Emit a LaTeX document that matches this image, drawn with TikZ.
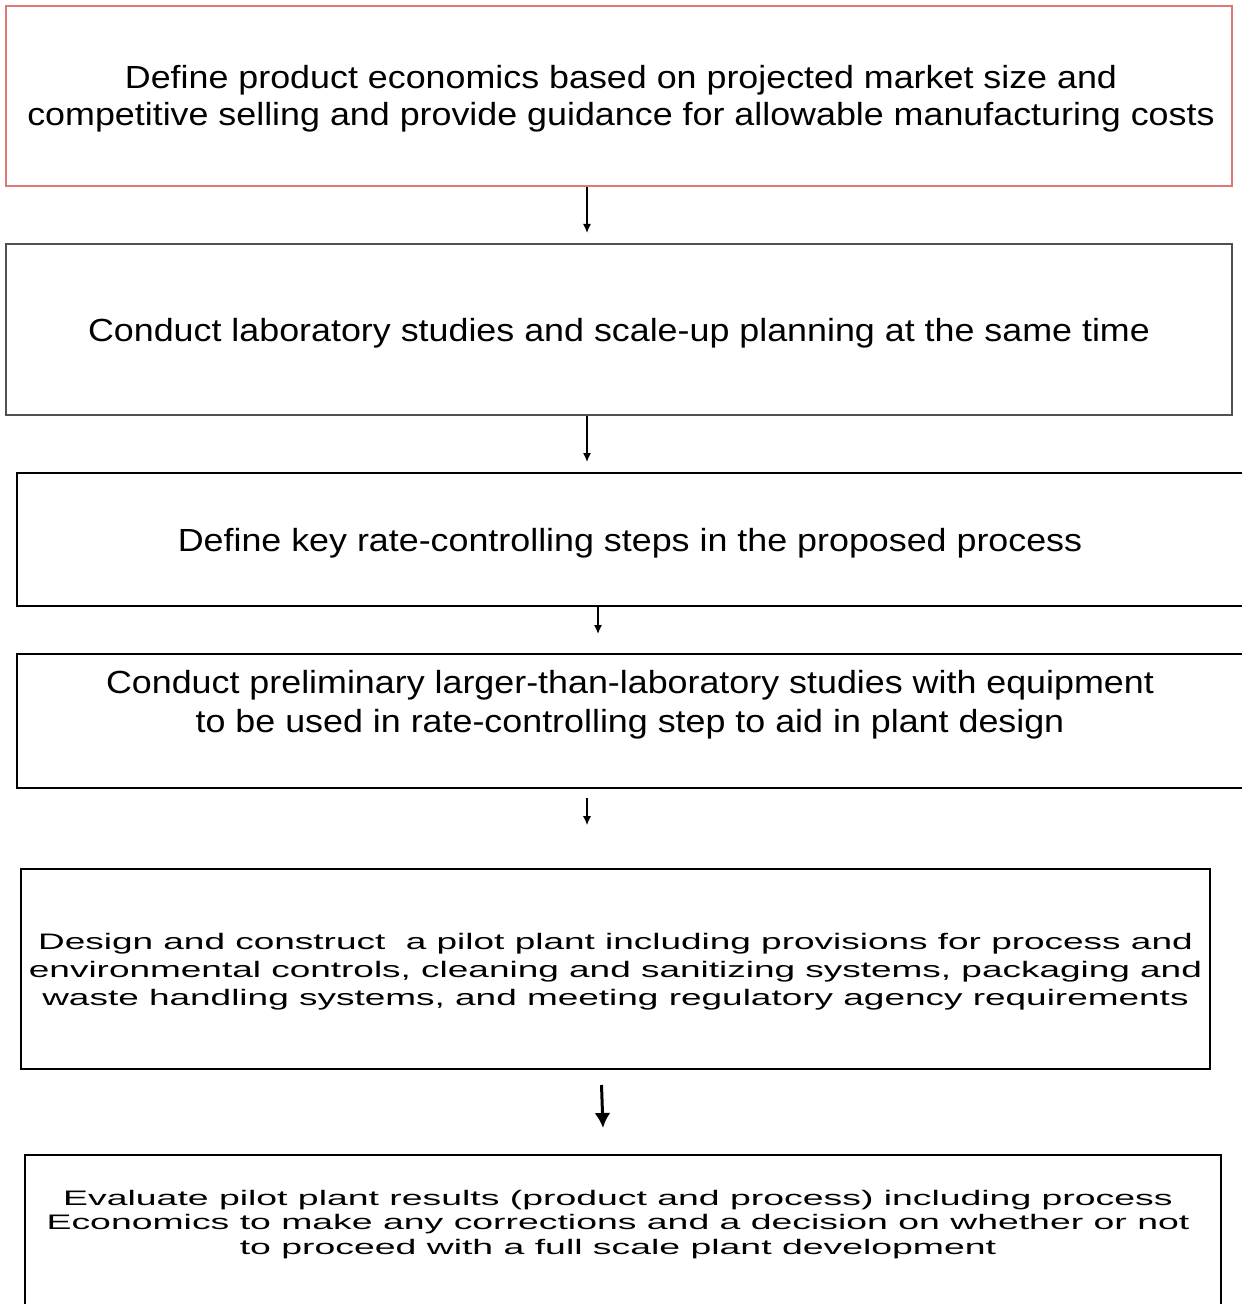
\documentclass[tikz,border=0pt]{standalone}
\usepackage{fontspec}
\setmainfont{Liberation Sans}
\newfontfamily\boxfont[FakeStretch=1.12]{Liberation Sans}
\newfontfamily\widefont[FakeStretch=1.65]{Liberation Sans}
\newfontfamily\widerfont[FakeStretch=1.78]{Liberation Sans}
\usepackage{tikz}
\usetikzlibrary{arrows,arrows.meta,shapes,positioning,calc}
\tikzstyle{stepbox} = [draw, rectangle, line width=1pt, inner sep=0pt, align=center, text depth=0pt]
\tikzstyle{steptext} = [align=center, inner sep=0pt]
\tikzstyle{arrow}   = [line width=0.7pt,-{Latex[length=4.5pt,width=4pt]}]
\definecolor{boxred}{RGB}{222,120,120}
\definecolor{boxgray}{RGB}{80,80,80}

\begin{document}
\begin{tikzpicture}[x=0.5pt,y=-0.5pt]
        \useasboundingbox (0,0) rectangle (1241,1304);
        \node[stepbox, draw=boxred, minimum width=613pt, minimum height=90pt] (s1) at (619,96) {};
        \node[steptext, font=\boxfont\fontsize{16}{18.5}\selectfont] (t1) at (621,99)
              {Define product economics based on projected market size and\\
               competitive selling and provide guidance for allowable manufacturing costs};
        \node[stepbox, draw=boxgray, minimum width=613pt, minimum height=85.5pt,
              font=\boxfont\fontsize{16}{18.5}\selectfont] (s2) at (619,329.5)
              {Conduct laboratory studies and scale-up planning at the same time};
        \node[stepbox, minimum width=613pt, minimum height=66.5pt,
              font=\boxfont\fontsize{16}{18.5}\selectfont] (s3) at (630,539.5)
              {Define key rate-controlling steps in the proposed process};
        \node[stepbox, minimum width=613pt, minimum height=67pt] (s4) at (630,721) {};
        \node[steptext, font=\boxfont\fontsize{16}{19.5}\selectfont] (t4) at (630,705)
              {Conduct preliminary larger-than-laboratory studies with equipment\\
               to be used in rate-controlling step to aid in plant design};
        \node[stepbox, line width=0.8pt, minimum width=594.5pt, minimum height=100pt] (s5) at (615.5,969) {};
        \node[steptext, font=\widefont\fontsize{11.2}{14}\selectfont] (t5) at (615.5,972)
              {Design and construct\ \ a pilot plant including provisions for process and\\
               environmental controls, cleaning and sanitizing systems, packaging and\\
               waste handling systems, and meeting regulatory agency requirements};
        \node[stepbox, line width=0.8pt, minimum width=598pt, minimum height=82.5pt] (s6) at (623,1237.5) {};
        \node[steptext, font=\widerfont\fontsize{10.5}{12.25}\selectfont] (t6) at (618,1224.5)
              {Evaluate pilot plant results (product and process) including process\\
               Economics to make any corrections and a decision on whether or not\\
               to proceed with a full scale plant development};

        % arrows between the steps
        \coordinate (a1) at (587,0);
        \coordinate (a3) at (598,0);
        \coordinate (a5) at (601.5,1085);
        \coordinate (b5) at (603,1128);
        \draw[arrow, shorten >=5pt] (s1.south -| a1) -- (s2.north -| a1);
        \draw[arrow, shorten >=5pt] (s2.south -| a1) -- (s3.north -| a1);
        \draw[arrow, shorten >=9.5pt] (s3.south -| a3) -- (s4.north -| a3);
        \draw[arrow, shorten <=4.5pt, shorten >=21.5pt] (s4.south -| a1) -- (s5.north -| a1);
        \draw[line width=1.5pt, -{Latex[length=7.5pt,width=8pt]}] (a5) -- (b5);
\end{tikzpicture}
\end{document}
